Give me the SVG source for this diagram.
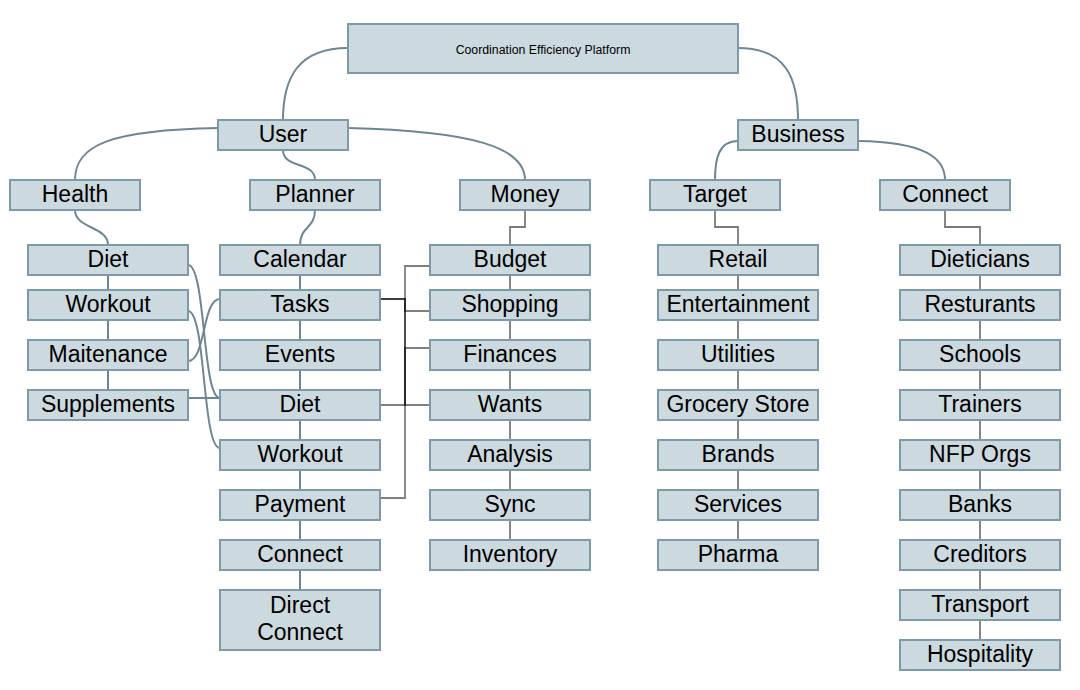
<svg xmlns="http://www.w3.org/2000/svg" width="1080" height="690" viewBox="0 0 1080 690">
<style>
.n rect{fill:#ccd9df;stroke:#7d9aa9;stroke-width:2}
.n text{font-family:"Liberation Sans",Arial,sans-serif;font-size:23px;fill:#000;text-anchor:middle;dominant-baseline:central}
.c path{fill:none}
.cv{stroke:#6d8694;stroke-width:2}
.cg{stroke:#7a7a7a;stroke-width:1.8}
.ck{stroke:#000;stroke-opacity:0.5;stroke-width:1.8}
</style>
<rect width="1080" height="690" fill="#fff"/>
<g id="connectors" class="c">
<path class="cv" d="M348,48 C298,48 283,78 283,120"/>
<path class="cv" d="M738,48 C786,48 798,78 798,120"/>
<path class="cv" d="M218,128 C110,130 75,145 75,180"/>
<path class="cv" d="M348,128 C475,131 525,148 525,180"/>
<path class="cv" d="M283,150 C283,169 315,161 315,180"/>
<path class="cv" d="M738,141 C719,141 715,158 715,180"/>
<path class="cv" d="M858,141 C925,142 945,158 945,180"/>
<path class="cv" d="M75,210 C75,229 108,226 108,245"/>
<path class="cv" d="M315,210 C315,229 300,226 300,245"/>
<path class="cg" d="M525,210 V227 H510 V245"/>
<path class="cg" d="M715,210 V227 H738 V245"/>
<path class="cg" d="M945,210 V227 H980 V245"/>
<path class="cv" d="M108,275 V390"/>
<path class="cv" d="M300,275 V590"/>
<path class="cg" d="M510,275 V540"/>
<path class="cg" d="M738,275 V540"/>
<path class="cg" d="M980,275 V640"/>
<path class="cv" d="M188,265 C206,265 202,398 220,398"/>
<path class="cv" d="M188,311 C206,311 202,448 220,448"/>
<path class="cv" d="M188,361 C206,361 202,299 220,299"/>
<path class="cv" d="M188,398 H220"/>
<path class="ck" d="M380,498 H405 V266 H430"/>
<path class="ck" d="M380,299 H405 V311 H430"/>
<path class="ck" d="M380,299 H405 V405 H430"/>
<path class="ck" d="M380,405 H405 V348 H430"/>
</g>
<g id="root" class="n"><rect x="348" y="24" width="390" height="49"/><text x="543" y="50" style="font-size:12.3px">Coordination Efficiency Platform</text></g>
<g id="user" class="n"><rect x="218" y="120" width="130" height="30"/><text x="283" y="134">User</text></g>
<g id="business" class="n"><rect x="738" y="120" width="120" height="30"/><text x="798" y="134">Business</text></g>
<g id="health" class="n"><rect x="10" y="180" width="130" height="30"/><text x="75" y="194">Health</text></g>
<g id="planner" class="n"><rect x="250" y="180" width="130" height="30"/><text x="315" y="194">Planner</text></g>
<g id="money" class="n"><rect x="460" y="180" width="130" height="30"/><text x="525" y="194">Money</text></g>
<g id="target" class="n"><rect x="650" y="180" width="130" height="30"/><text x="715" y="194">Target</text></g>
<g id="connect" class="n"><rect x="880" y="180" width="130" height="30"/><text x="945" y="194">Connect</text></g>
<g id="h-diet" class="n"><rect x="28" y="245" width="160" height="30"/><text x="108" y="259">Diet</text></g>
<g id="h-workout" class="n"><rect x="28" y="290" width="160" height="30"/><text x="108" y="304">Workout</text></g>
<g id="h-maitenance" class="n"><rect x="28" y="340" width="160" height="30"/><text x="108" y="354">Maitenance</text></g>
<g id="h-supplements" class="n"><rect x="28" y="390" width="160" height="30"/><text x="108" y="404">Supplements</text></g>
<g id="p-calendar" class="n"><rect x="220" y="245" width="160" height="30"/><text x="300" y="259">Calendar</text></g>
<g id="p-tasks" class="n"><rect x="220" y="290" width="160" height="30"/><text x="300" y="304">Tasks</text></g>
<g id="p-events" class="n"><rect x="220" y="340" width="160" height="30"/><text x="300" y="354">Events</text></g>
<g id="p-diet" class="n"><rect x="220" y="390" width="160" height="30"/><text x="300" y="404">Diet</text></g>
<g id="p-workout" class="n"><rect x="220" y="440" width="160" height="30"/><text x="300" y="454">Workout</text></g>
<g id="p-payment" class="n"><rect x="220" y="490" width="160" height="30"/><text x="300" y="504">Payment</text></g>
<g id="p-connect" class="n"><rect x="220" y="540" width="160" height="30"/><text x="300" y="554">Connect</text></g>
<g id="p-direct" class="n"><rect x="220" y="590" width="160" height="60"/><text x="300" y="605">Direct</text><text x="300" y="632">Connect</text></g>
<g id="m-budget" class="n"><rect x="430" y="245" width="160" height="30"/><text x="510" y="259">Budget</text></g>
<g id="m-shopping" class="n"><rect x="430" y="290" width="160" height="30"/><text x="510" y="304">Shopping</text></g>
<g id="m-finances" class="n"><rect x="430" y="340" width="160" height="30"/><text x="510" y="354">Finances</text></g>
<g id="m-wants" class="n"><rect x="430" y="390" width="160" height="30"/><text x="510" y="404">Wants</text></g>
<g id="m-analysis" class="n"><rect x="430" y="440" width="160" height="30"/><text x="510" y="454">Analysis</text></g>
<g id="m-sync" class="n"><rect x="430" y="490" width="160" height="30"/><text x="510" y="504">Sync</text></g>
<g id="m-inventory" class="n"><rect x="430" y="540" width="160" height="30"/><text x="510" y="554">Inventory</text></g>
<g id="t-retail" class="n"><rect x="658" y="245" width="160" height="30"/><text x="738" y="259">Retail</text></g>
<g id="t-entertainment" class="n"><rect x="658" y="290" width="160" height="30"/><text x="738" y="304">Entertainment</text></g>
<g id="t-utilities" class="n"><rect x="658" y="340" width="160" height="30"/><text x="738" y="354">Utilities</text></g>
<g id="t-grocery" class="n"><rect x="658" y="390" width="160" height="30"/><text x="738" y="404">Grocery Store</text></g>
<g id="t-brands" class="n"><rect x="658" y="440" width="160" height="30"/><text x="738" y="454">Brands</text></g>
<g id="t-services" class="n"><rect x="658" y="490" width="160" height="30"/><text x="738" y="504">Services</text></g>
<g id="t-pharma" class="n"><rect x="658" y="540" width="160" height="30"/><text x="738" y="554">Pharma</text></g>
<g id="c-dieticians" class="n"><rect x="900" y="245" width="160" height="30"/><text x="980" y="259">Dieticians</text></g>
<g id="c-resturants" class="n"><rect x="900" y="290" width="160" height="30"/><text x="980" y="304">Resturants</text></g>
<g id="c-schools" class="n"><rect x="900" y="340" width="160" height="30"/><text x="980" y="354">Schools</text></g>
<g id="c-trainers" class="n"><rect x="900" y="390" width="160" height="30"/><text x="980" y="404">Trainers</text></g>
<g id="c-nfp" class="n"><rect x="900" y="440" width="160" height="30"/><text x="980" y="454">NFP Orgs</text></g>
<g id="c-banks" class="n"><rect x="900" y="490" width="160" height="30"/><text x="980" y="504">Banks</text></g>
<g id="c-creditors" class="n"><rect x="900" y="540" width="160" height="30"/><text x="980" y="554">Creditors</text></g>
<g id="c-transport" class="n"><rect x="900" y="590" width="160" height="30"/><text x="980" y="604">Transport</text></g>
<g id="c-hospitality" class="n"><rect x="900" y="640" width="160" height="30"/><text x="980" y="654">Hospitality</text></g>
</svg>
